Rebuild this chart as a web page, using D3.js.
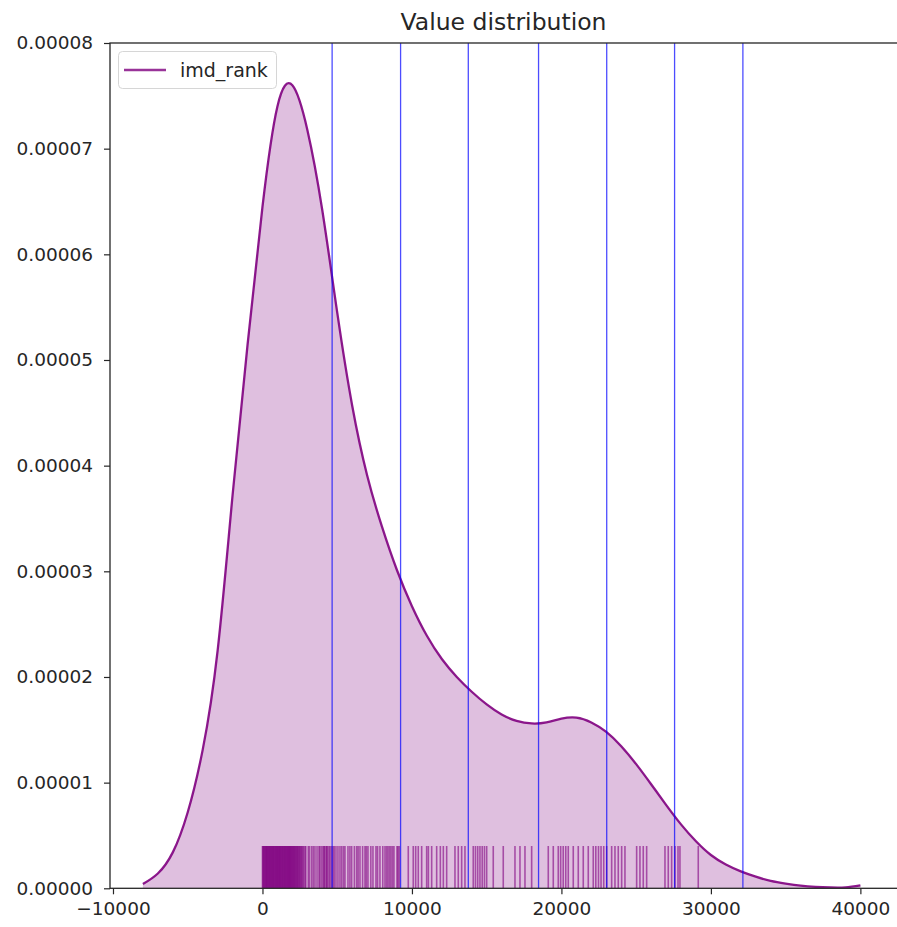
<!DOCTYPE html>
<html>
<head>
<meta charset="utf-8">
<script src="https://cdn.jsdelivr.net/npm/d3@7"></script>
<style>
  body { margin: 0; background: #fff; }
  svg { display: block; font-family: "DejaVu Sans", sans-serif; }
</style>
</head>
<body>
<div id="chart"></div>
<script>
// density curve (x, density)
var kdeX = [-8000, -7000, -6000, -5000, -4000, -3000, -2000, -1000, 0, 1000, 2000, 3000, 4000,
  5000, 6000, 7000, 8000, 9000, 10000, 11000, 12000, 13000, 14000, 15000, 16000, 17000, 18000,
  19000, 20000, 21000, 22000, 23000, 24000, 25000, 26000, 27000, 28000, 29000, 30000, 31000,
  32000, 33000, 34000, 35000, 36000, 37000, 38000, 39000, 40000];
var kdeY = [0.04e-5, 0.14e-5, 0.34e-5, 0.72e-5, 1.31e-5, 2.25e-5, 3.72e-5, 5.14e-5, 6.45e-5,
  7.40e-5, 7.60e-5, 7.18e-5, 6.42e-5, 5.45e-5, 4.57e-5, 3.91e-5, 3.42e-5, 3.01e-5, 2.67e-5,
  2.39e-5, 2.17e-5, 2.00e-5, 1.86e-5, 1.74e-5, 1.645e-5, 1.585e-5, 1.56e-5, 1.57e-5, 1.605e-5,
  1.615e-5, 1.57e-5, 1.48e-5, 1.345e-5, 1.175e-5, 0.985e-5, 0.79e-5, 0.605e-5, 0.445e-5, 0.315e-5,
  0.225e-5, 0.16e-5, 0.11e-5, 0.07e-5, 0.045e-5, 0.026e-5, 0.014e-5, 0.008e-5, 0.009e-5, 0.028e-5];

// rug values (imd_rank)
var rugValues = [0, 30, 75, 100, 140, 185, 210, 250, 290, 310, 355, 390, 420, 460, 495, 520,
  565, 600, 630, 670, 705, 730, 775, 800, 845, 880, 910, 950, 985, 1010, 1055, 1090, 1120,
  1160, 1195, 1220, 1265, 1300, 1330, 1370, 1405, 1440, 1475, 1510, 1545, 1580, 1615, 1650,
  1690, 1720, 1760, 1790, 1830, 1860, 1900, 1930, 1970, 2010, 2040, 2080, 2120, 2150, 2200,
  2240, 2270, 2320, 2360, 2400, 2450, 2490, 2540, 2590, 2640, 2700, 2760,
  2843, 2900, 3064, 3150, 3291, 3400, 3512, 3650, 3780, 3847, 3950, 4047, 4120, 4150, 4248,
  4300, 4350, 4449, 4520, 4620, 4716, 4800, 4917, 5050, 5185, 5300, 5420, 5519, 5720, 5850,
  5967, 6150, 6302, 6400, 6523, 6700, 6857, 6950, 7058, 7250, 7392, 7593, 7700, 7860, 8050,
  8195, 8300, 8396, 8500, 8597, 8700, 8797, 8998, 9065, 9150,
  9754, 10088, 10250, 10423, 10650, 10985, 11100, 11320, 11654, 11900, 12100, 12323, 12878,
  13099, 13326, 13547, 14102, 14250, 14400, 14550, 14700, 14850, 14999, 15440, 16109, 16892,
  17227, 17561, 18009, 19120, 19455, 19789, 19950, 20120, 20290, 20458, 20792, 21127, 21461,
  21796, 22130, 22300, 22480, 22650, 22830, 23027, 23361, 23582, 23803, 24030, 24250, 25033,
  25254, 25475, 25702, 26927, 27147, 27374, 27600, 27800, 27930, 29154];

// bin edges drawn as vertical lines
var binEdges = [4660, 9240, 13770, 18470, 23030, 27570, 32140];

var xTicks = [-10000, 0, 10000, 20000, 30000, 40000];
var yTicks = [0, 0.00001, 0.00002, 0.00003, 0.00004, 0.00005, 0.00006, 0.00007, 0.00008];

(function () {
  var W = 897, H = 927;
  var mLeft = 110, mRight = 897, mTop = 43, mBottom = 888.3;

  var svg = d3.select('#chart').append('svg').attr('width', W).attr('height', H);

  var x = d3.scaleLinear().domain([-10200, 42450]).range([mLeft, mRight]);
  var y = d3.scaleLinear().domain([0, 0.00008]).range([mBottom, mTop]);

  svg.append('clipPath').attr('id', 'clip')
    .append('rect').attr('x', mLeft).attr('y', mTop).attr('width', mRight - mLeft).attr('height', mBottom - mTop);

  var plot = svg.append('g').attr('clip-path', 'url(#clip)');

  var pts = kdeX.map(function (v, i) { return [v, kdeY[i]]; });

  var area = d3.area()
    .x(function (d) { return x(d[0]); })
    .y0(y(0))
    .y1(function (d) { return y(d[1]); })
    .curve(d3.curveNatural);
  var line = d3.line()
    .x(function (d) { return x(d[0]); })
    .y(function (d) { return y(d[1]); })
    .curve(d3.curveNatural);

  plot.append('path').attr('d', area(pts)).attr('fill', 'purple').attr('fill-opacity', 0.25);
  plot.append('path').attr('d', line(pts)).attr('fill', 'none').attr('stroke', 'purple')
    .attr('stroke-width', 2.3).attr('stroke-opacity', 0.9);

  // rug, 5% of axes height
  var rugH = (mBottom - mTop) * 0.05;
  plot.selectAll('line.rug').data(rugValues).enter().append('line')
    .attr('class', 'rug')
    .attr('x1', function (d) { return x(d); })
    .attr('x2', function (d) { return x(d); })
    .attr('y1', mBottom)
    .attr('y2', mBottom - rugH)
    .attr('stroke', 'purple')
    .attr('stroke-opacity', 0.6)
    .attr('stroke-width', 1.6);

  plot.selectAll('line.edge').data(binEdges).enter().append('line')
    .attr('class', 'edge')
    .attr('x1', function (d) { return x(d); })
    .attr('x2', function (d) { return x(d); })
    .attr('y1', mTop)
    .attr('y2', mBottom)
    .attr('stroke', 'blue')
    .attr('stroke-opacity', 0.7)
    .attr('stroke-width', 1.3);

  // axes
  var xAxis = d3.axisBottom(x).tickValues(xTicks).tickSize(6).tickPadding(8)
    .tickFormat(function (d) { return d < 0 ? '\u2212' + Math.abs(d) : d; });
  var yAxis = d3.axisLeft(y).tickValues(yTicks).tickSize(6).tickPadding(11)
    .tickFormat(d3.format('.5f'));

  var gx = svg.append('g').attr('transform', 'translate(0,' + mBottom + ')').call(xAxis);
  var gy = svg.append('g').attr('transform', 'translate(' + mLeft + ',0)').call(yAxis);
  [gx, gy].forEach(function (g) {
    g.select('.domain').remove();
    g.selectAll('line').attr('stroke', '#262626').attr('stroke-width', 1.2);
    g.selectAll('text').attr('fill', '#262626').style('font-size', '18.5px')
      .style('font-family', '"DejaVu Sans", sans-serif');
  });

  // spines
  svg.append('rect').attr('x', mLeft).attr('y', mTop).attr('width', mRight - mLeft + 1).attr('height', mBottom - mTop)
    .attr('fill', 'none').attr('stroke', '#262626').attr('stroke-width', 1.3);

  svg.append('text').attr('x', (mLeft + mRight) / 2).attr('y', 30).attr('text-anchor', 'middle')
    .attr('fill', '#262626').style('font-size', '23.5px').text('Value distribution');

  // legend
  var lg = svg.append('g');
  lg.append('rect').attr('x', 118.5).attr('y', 51.5).attr('width', 158).attr('height', 37).attr('rx', 4)
    .attr('fill', 'white').attr('fill-opacity', 0.8).attr('stroke', '#d6d6d6');
  lg.append('line').attr('x1', 124).attr('x2', 166).attr('y1', 70).attr('y2', 70)
    .attr('stroke', 'purple').attr('stroke-width', 2.3).attr('stroke-opacity', 0.8);
  lg.append('text').attr('x', 180).attr('y', 77).attr('fill', '#262626').style('font-size', '19px').text('imd_rank');
})();
</script>
</body>
</html>
